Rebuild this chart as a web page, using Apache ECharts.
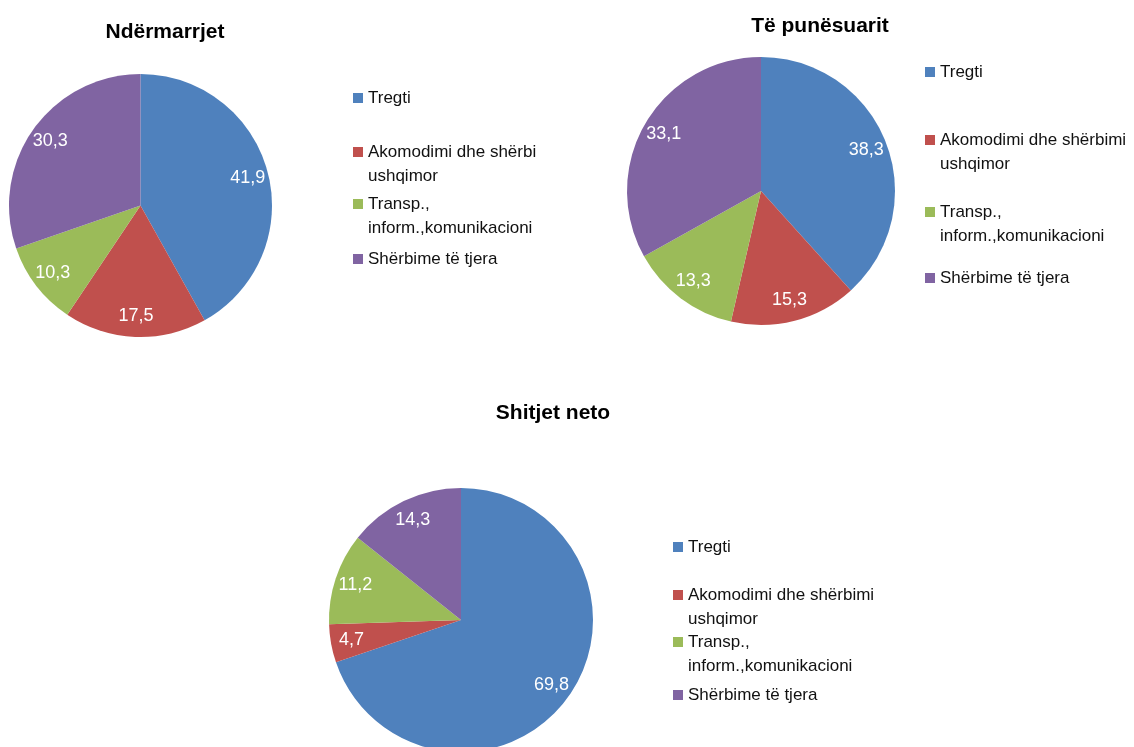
<!DOCTYPE html>
<html><head><meta charset="utf-8">
<script src="https://cdn.jsdelivr.net/npm/echarts@6/dist/echarts.min.js"></script>
<style>html,body{margin:0;padding:0;background:#fff}#c{width:1134px;height:747px}</style>
</head><body><div id="c"></div>
<script>
const categories = ['Tregti', 'Akomodimi dhe shërbimi ushqimor', 'Transp., inform.,komunikacioni', 'Shërbime të tjera'];
const ndermarrjet = [41.9, 17.5, 10.3, 30.3];
const punesuarit = [38.3, 15.3, 13.3, 33.1];
const shitjetNeto = [69.8, 4.7, 11.2, 14.3];
const titles = ['Ndërmarrjet', 'Të punësuarit', 'Shitjet neto'];
const legendLabels1 = ['Tregti', 'Akomodimi dhe shërbi\nushqimor', 'Transp.,\ninform.,komunikacioni', 'Shërbime të tjera'];
const legendLabels2 = ['Tregti', 'Akomodimi dhe shërbimi\nushqimor', 'Transp.,\ninform.,komunikacioni', 'Shërbime të tjera'];
const legendLabels3 = ['Tregti', 'Akomodimi dhe shërbimi\nushqimor', 'Transp.,\ninform.,komunikacioni', 'Shërbime të tjera'];
const colors = ['#4F81BD', '#C0504D', '#9BBB59', '#8064A2'];

// layout (positions only)
const charts = [
  { values: ndermarrjet, title: titles[0], labels: legendLabels1, center: [140.5, 205.5], r: 131.5,
    titleX: 165, titleY: 21.5, legendX: 353, itemY: [98, 152, 204, 259] },
  { values: punesuarit, title: titles[1], labels: legendLabels2, center: [761, 191], r: 134,
    titleX: 820, titleY: 15.5, legendX: 925, itemY: [72, 140, 212, 278] },
  { values: shitjetNeto, title: titles[2], labels: legendLabels3, center: [461, 620], r: 132,
    titleX: 553, titleY: 402.5, legendX: 673, itemY: [547, 595, 642, 695] }
];

const LH = 24;
const fmt = v => String(v).replace('.', ',');
const mkData = vals => categories.map((n, i) => ({ name: n, value: vals[i] }));

const series = [];
charts.forEach(c => {
  series.push({
    type: 'pie', center: c.center, radius: [0, c.r], startAngle: 90, clockwise: true,
    data: mkData(c.values), label: { show: false }, labelLine: { show: false },
    itemStyle: { borderWidth: 0 }, emphasis: { disabled: true }, silent: true, animation: false
  });
});
charts.forEach(c => {
  series.push({
    type: 'pie', center: c.center, radius: [c.r * 0.64, c.r], startAngle: 90, clockwise: true,
    data: mkData(c.values), itemStyle: { color: 'rgba(0,0,0,0)' },
    label: { show: true, position: 'inside', color: '#fff', fontSize: 18,
      fontFamily: '"Liberation Sans", Arial, sans-serif',
      formatter: p => fmt(p.value) },
    labelLine: { show: false }, emphasis: { disabled: true }, silent: true, animation: false
  });
});

// Multi-line legend labels get a leading empty line so that the icon
// lines up with the first text line (legend text is centred on the icon).
const legends = [];
charts.forEach(c => {
  categories.forEach((n, i) => {
    const multi = c.labels[i].indexOf('\n') >= 0;
    const text = multi ? '\n' + c.labels[i] : c.labels[i];
    legends.push({
      orient: 'vertical', left: c.legendX, top: c.itemY[i] - (multi ? 1.5 * LH : 0.5 * LH),
      padding: 0, icon: 'rect', itemWidth: 10, itemHeight: 10, selectedMode: false,
      data: [n],
      formatter: () => text,
      textStyle: { fontSize: 17, lineHeight: LH, color: '#111',
        fontFamily: '"Liberation Sans", Arial, sans-serif' }
    });
  });
});

const option = {
  animation: false,
  color: colors,
  title: charts.map(c => ({
    text: c.title, left: c.titleX, top: c.titleY, textAlign: 'center', padding: 0,
    textStyle: { fontSize: 21, fontWeight: 'bold', color: '#000',
      fontFamily: '"Liberation Sans", Arial, sans-serif' }
  })),
  legend: legends,
  series: series
};

const chart = echarts.init(document.getElementById('c'), null, { renderer: 'canvas' });
chart.setOption(option);
</script>
</body></html>
